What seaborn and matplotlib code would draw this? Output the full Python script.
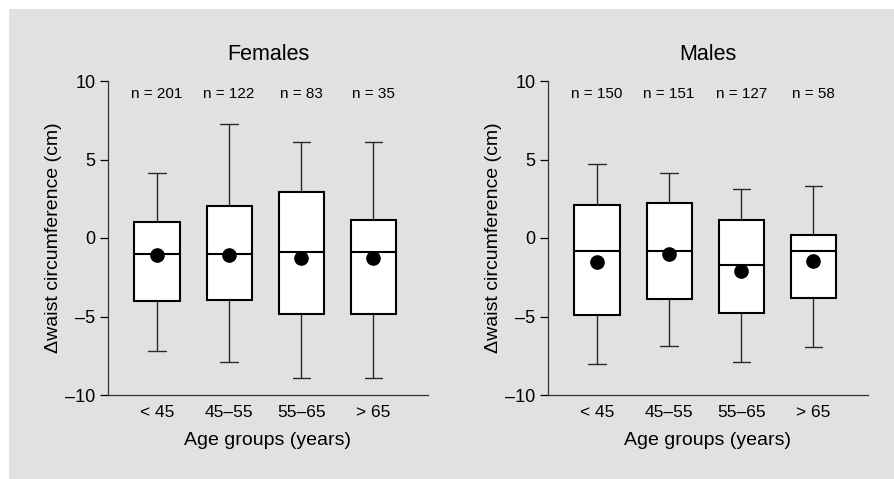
import seaborn as sns
import pandas as pd
import matplotlib.pyplot as plt
from matplotlib.patches import Rectangle

groups = ['< 45', '45–55', '55–65', '> 65']

# five-number summaries: low whisker, q1, median, q3, high whisker
fem_low = [-7.2, -7.9, -8.9, -8.9]
fem_q1 = [-4.0, -3.95, -4.85, -4.85]
fem_med = [-1.0, -1.0, -0.9, -0.9]
fem_q3 = [1.05, 2.05, 2.95, 1.15]
fem_high = [4.15, 7.25, 6.1, 6.1]
fem_mean = [-1.1, -1.1, -1.3, -1.3]
fem_n = [201, 122, 83, 35]

mal_low = [-8.0, -6.85, -7.9, -6.95]
mal_q1 = [-4.9, -3.9, -4.8, -3.85]
mal_med = [-0.85, -0.85, -1.75, -0.8]
mal_q3 = [2.1, 2.2, 1.15, 0.2]
mal_high = [4.7, 4.15, 3.1, 3.3]
mal_mean = [-1.5, -1.0, -2.1, -1.45]
mal_n = [150, 151, 127, 58]


def long_table(low, q1, med, q3, high):
    rows = []
    for i, g in enumerate(groups):
        for v in (low[i], q1[i], med[i], q3[i], high[i]):
            rows.append({'group': g, 'value': v})
    return pd.DataFrame(rows)


sns.set_theme(style="ticks")
plt.rcParams['font.family'] = ['Liberation Sans', 'DejaVu Sans']
plt.rcParams['text.color'] = 'black'
plt.rcParams['axes.labelcolor'] = 'black'
plt.rcParams['xtick.color'] = 'black'
plt.rcParams['ytick.color'] = 'black'

fig = plt.figure(figsize=(8.95, 4.79), dpi=100)
fig.patches.append(Rectangle((9 / 895, 0), 1, 1 - 9 / 479, transform=fig.transFigure,
                             facecolor='#e1e1e1', edgecolor='none', zorder=-10))

ax1 = fig.add_axes([108 / 895, 84 / 479, 320 / 895, 314 / 479])
ax2 = fig.add_axes([548 / 895, 84 / 479, 320 / 895, 314 / 479])

panels = [
    (ax1, 'Females', long_table(fem_low, fem_q1, fem_med, fem_q3, fem_high), fem_mean, fem_n),
    (ax2, 'Males', long_table(mal_low, mal_q1, mal_med, mal_q3, mal_high), mal_mean, mal_n),
]

for ax, title, df, means, ns in panels:
    ax.set_facecolor('none')
    sns.boxplot(data=df, x='group', y='value', order=groups, ax=ax,
                whis=(0, 100), width=0.625, color='white', fliersize=0,
                boxprops=dict(edgecolor='black', linewidth=1.5),
                medianprops=dict(color='black', linewidth=1.5),
                whiskerprops=dict(color='#2a2a2a', linewidth=1.0),
                capprops=dict(color='#2a2a2a', linewidth=1.0),
                capwidths=0.24)
    mdf = pd.DataFrame({'group': groups, 'mean': means})
    sns.pointplot(data=mdf, x='group', y='mean', order=groups, ax=ax,
                  color='black', linestyle='none', markers='o', markersize=8.5,
                  errorbar=None)
    for i, n in enumerate(ns):
        ax.text(i, 9.2, f'n = {n}', ha='center', va='center', fontsize=11)

    ax.set_xlim(-0.68, 3.76)
    ax.set_ylim(-10, 10)
    ax.set_yticks([-10, -5, 0, 5, 10])
    ax.set_yticklabels(['–10', '–5', '0', '5', '10'])
    ax.tick_params(axis='y', length=6, width=0.9, labelsize=13, pad=3)
    ax.tick_params(axis='x', length=0, labelsize=12.5, pad=7)
    ax.set_title(title, fontsize=15.5, pad=15)
    ax.set_xlabel('Age groups (years)', fontsize=14, labelpad=9)
    ax.set_ylabel('Δwaist circumference (cm)', fontsize=14, labelpad=2)
    for s in ['top', 'right']:
        ax.spines[s].set_visible(False)
    for s in ['left', 'bottom']:
        ax.spines[s].set_linewidth(0.9)
        ax.spines[s].set_color('#333333')

fig.savefig('out.png', dpi=100)
